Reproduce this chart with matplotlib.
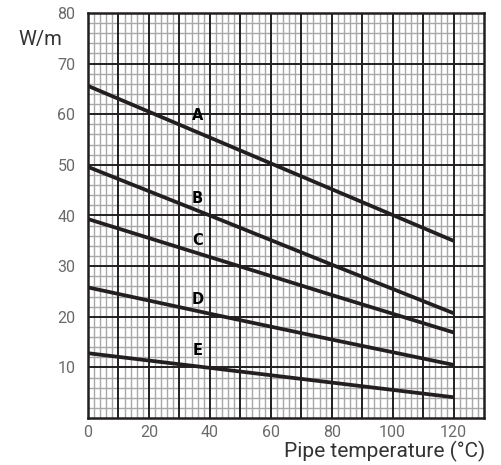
import matplotlib
matplotlib.use("Agg")
import matplotlib.pyplot as plt
import numpy as np

plt.rcParams['font.family'] = ['Roboto', 'DejaVu Sans']

# Data
temps = [0, 40, 80, 120]
curve_A = [65.6, 55.4, 45.2, 35.0]
curve_B = [49.6, 40.0, 30.3, 20.7]
curve_C = [39.3, 31.8, 24.3, 16.9]
curve_D = [25.8, 20.6, 15.5, 10.5]
curve_E = [12.8, 9.9, 7.0, 4.1]
curve_names = ["A", "B", "C", "D", "E"]
label_x = 36
label_y = [59.7, 43.3, 35.0, 23.5, 13.4]
x_ticks = [0, 20, 40, 60, 80, 100, 120]
y_ticks = [10, 20, 30, 40, 50, 60, 70, 80]

fig = plt.figure(figsize=(5.01, 4.65), dpi=100)
ax = fig.add_axes([88/501, 47/465, 396/501, 405/465])

ax.set_xlim(0, 130)
ax.set_ylim(0, 80)

# grid
for v in np.arange(2, 130, 2):
    if v % 10 == 0:
        ax.axvline(v, color='#231f20', lw=1.4, zorder=2)
    else:
        ax.axvline(v, color='#a8a8a8', lw=1.0, zorder=1)
for v in np.arange(2, 80, 2):
    if v % 10 == 0:
        ax.axhline(v, color='#231f20', lw=1.4, zorder=2)
    else:
        ax.axhline(v, color='#a8a8a8', lw=1.0, zorder=1)

for ys in [curve_A, curve_B, curve_C, curve_D, curve_E]:
    ax.plot(temps, ys, color='#231f20', lw=2.7, solid_capstyle='butt', zorder=4)

for name, yv in zip(curve_names, label_y):
    ax.text(label_x, yv, name, ha='center', va='center', fontsize=10.5,
            fontweight='bold', color='black', zorder=5,
            family=['DejaVu Sans'])

for s in ax.spines.values():
    s.set_color('#231f20')
    s.set_linewidth(1.8)
    s.set_zorder(6)

ax.set_xticks(x_ticks)
ax.set_yticks(y_ticks)
ax.tick_params(length=0, labelsize=11.5, labelcolor='#6a6a6a', pad=5)
ax.tick_params(axis='y', pad=9)

fig.text(18/501, 1 - 40/465, "W/m", fontsize=14.5, color='#333333',
         ha='left', va='center')
fig.text(485/501, 1 - 451/465, "Pipe temperature (°C)", fontsize=15,
         color='#333333', ha='right', va='center')

fig.savefig("out.png", dpi=100)
